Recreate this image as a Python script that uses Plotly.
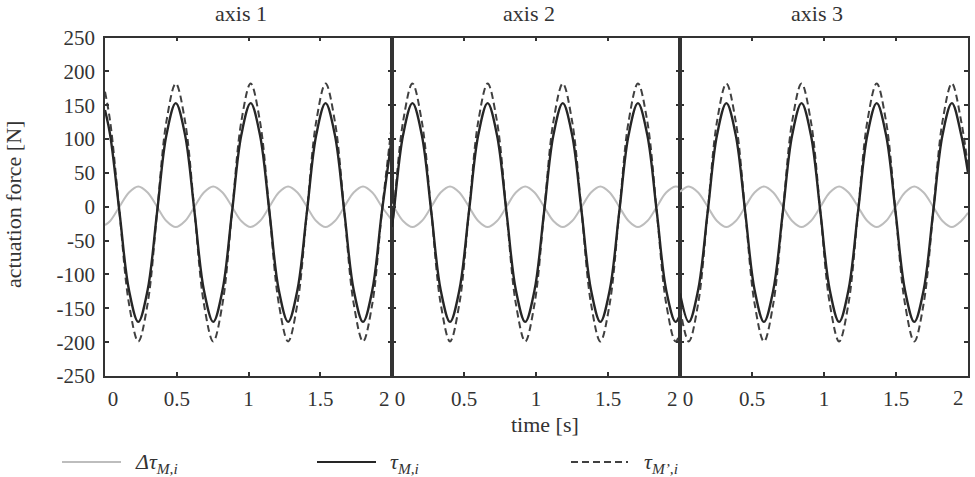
import plotly.graph_objects as go

# ---------------- data ----------------
panel_titles = ["axis 1", "axis 2", "axis 3"]

t_axis1 = [0, 0.036, 0.101, 0.167, 0.232, 0.297, 0.363, 0.428,
           0.493, 0.558, 0.624, 0.689, 0.754, 0.819, 0.885, 0.950,
           1.015, 1.080, 1.146, 1.211, 1.276, 1.341, 1.407, 1.472,
           1.537, 1.602, 1.668, 1.733, 1.798, 1.863, 1.929, 2.0]
tauM_axis1 = [143, 106, -8, -123, -170, -123, -8, 106,
              153, 106, -8, -123, -170, -123, -8, 106,
              153, 106, -8, -123, -170, -123, -8, 106,
              153, 106, -8, -123, -170, -123, -8, 104]
tauMp_axis1 = [170, 126, -8, -143, -199, -143, -8, 126,
               182, 126, -8, -143, -199, -143, -8, 126,
               182, 126, -8, -143, -199, -143, -8, 126,
               182, 126, -8, -143, -199, -143, -8, 124]
delta_axis1 = [-27, -21, 0, 21, 30, 21, 0, -21,
               -30, -21, 0, 21, 30, 21, 0, -21,
               -30, -21, 0, 21, 30, 21, 0, -21,
               -30, -21, 0, 21, 30, 21, 0, -20]

t_axis2 = [0, 0.012, 0.077,
           0.142, 0.207, 0.273, 0.338, 0.403, 0.468, 0.534, 0.599,
           0.664, 0.729, 0.795, 0.860, 0.925, 0.990, 1.056, 1.121,
           1.186, 1.251, 1.317, 1.382, 1.447, 1.512, 1.578, 1.643,
           1.708, 1.773, 1.839, 1.904, 1.969, 2.0]
tauM_axis2 = [-30, -8, 106,
              153, 106, -8, -123, -170, -123, -8, 106,
              153, 106, -8, -123, -170, -123, -8, 106,
              153, 106, -8, -123, -170, -123, -8, 106,
              153, 106, -8, -123, -170, -160]
tauMp_axis2 = [-34, -8, 126,
               182, 126, -8, -143, -199, -143, -8, 126,
               182, 126, -8, -143, -199, -143, -8, 126,
               182, 126, -8, -143, -199, -143, -8, 126,
               182, 126, -8, -143, -199, -187]
delta_axis2 = [4, 0, -21,
               -30, -21, 0, 21, 30, 21, 0, -21,
               -30, -21, 0, 21, 30, 21, 0, -21,
               -30, -21, 0, 21, 30, 21, 0, -21,
               -30, -21, 0, 21, 30, 28]

t_axis3 = [0,
           0.061, 0.126, 0.192, 0.257, 0.322, 0.387, 0.453, 0.518,
           0.583, 0.648, 0.714, 0.779, 0.844, 0.909, 0.975, 1.040,
           1.105, 1.170, 1.236, 1.301, 1.366, 1.431, 1.497, 1.562,
           1.627, 1.692, 1.758, 1.823, 1.888, 1.953, 2.0]
tauM_axis3 = [-128,
              -170, -123, -8, 106, 153, 106, -8, -123,
              -170, -123, -8, 106, 153, 106, -8, -123,
              -170, -123, -8, 106, 153, 106, -8, -123,
              -170, -123, -8, 106, 153, 106, 50]
tauMp_axis3 = [-150,
               -199, -143, -8, 126, 182, 126, -8, -143,
               -199, -143, -8, 126, 182, 126, -8, -143,
               -199, -143, -8, 126, 182, 126, -8, -143,
               -199, -143, -8, 126, 182, 126, 58]
delta_axis3 = [22,
               30, 21, 0, -21, -30, -21, 0, 21,
               30, 21, 0, -21, -30, -21, 0, 21,
               30, 21, 0, -21, -30, -21, 0, 21,
               30, 21, 0, -21, -30, -21, -9]

x_tickvals = [0, 0.5, 1, 1.5, 2]
x_ticktext = ["\u00a0\u00a0\u00a00", "0.5", "1", "1.5", "2\u00a0\u00a0\u00a0"]
x_ticktext_last = ["\u00a0\u00a0\u00a00", "0.5", "1", "1.5", ""]
x_last_label = "2"
y_tickvals = [250, 200, 150, 100, 50, 0, -50, -100, -150, -200, -250]
y_ticktext = ["250", "200", "150", "100", "50", "0", "-50", "-100", "-150", "-200", "-250"]

legend_labels = ["<i>Δτ</i><sub><i>M,i</i></sub>",
                 "<i>τ</i><sub><i>M,i</i></sub>",
                 "<i>τ</i><sub><i>M’,i</i></sub>"]

# ---------------- styling ----------------
W, H = 975, 477
FONT = "Liberation Serif"
TXT = "#333333"
AX = "#333333"
C_DELTA = "#bdbdbd"
C_TAU = "#262626"
C_TAUP = "#404040"

panels = [
    (t_axis1, delta_axis1, tauM_axis1, tauMp_axis1),
    (t_axis2, delta_axis2, tauM_axis2, tauMp_axis2),
    (t_axis3, delta_axis3, tauM_axis3, tauMp_axis3),
]

px_left = [105, 392, 680]
px_right = [392, 680, 968]
plot_top, plot_bottom = 37.5, 376

fig = go.Figure()
for i, (t, d, tm, tmp) in enumerate(panels):
    xa = "x" if i == 0 else f"x{i+1}"
    ya = "y" if i == 0 else f"y{i+1}"
    fig.add_trace(go.Scatter(x=t, y=d, mode="lines", xaxis=xa, yaxis=ya,
                             line=dict(color=C_DELTA, width=2, shape="spline", smoothing=1.0),
                             showlegend=False, hoverinfo="skip"))
    fig.add_trace(go.Scatter(x=t, y=tmp, mode="lines", xaxis=xa, yaxis=ya,
                             line=dict(color=C_TAUP, width=2, dash="7px,4px",
                                       shape="spline", smoothing=1.0),
                             showlegend=False, hoverinfo="skip"))
    fig.add_trace(go.Scatter(x=t, y=tm, mode="lines", xaxis=xa, yaxis=ya,
                             line=dict(color=C_TAU, width=2.4, shape="spline", smoothing=1.0),
                             showlegend=False, hoverinfo="skip"))

layout = dict(
    template="none",
    width=W, height=H, autosize=False,
    margin=dict(l=0, r=0, t=0, b=0, pad=0),
    paper_bgcolor="white", plot_bgcolor="white",
    font=dict(family=FONT, size=21, color=TXT),
    showlegend=False,
)

ydom = [1 - plot_bottom / H, 1 - plot_top / H]
for i in range(3):
    xk = "xaxis" if i == 0 else f"xaxis{i+1}"
    yk = "yaxis" if i == 0 else f"yaxis{i+1}"
    ya = "y" if i == 0 else f"y{i+1}"
    xa = "x" if i == 0 else f"x{i+1}"
    layout[xk] = dict(
        domain=[px_left[i] / W, px_right[i] / W], anchor=ya, automargin=False,
        range=[0, 2], tickvals=x_tickvals,
        ticktext=(x_ticktext_last if i == 2 else x_ticktext),
        showline=True, linecolor=AX, linewidth=1.5, mirror="ticks",
        ticks="inside", ticklen=4, tickwidth=1.5, tickcolor=AX,
        showgrid=False, zeroline=False, ticklabelstandoff=3,
        ticklabeloverflow="allow",
        tickfont=dict(family=FONT, size=21, color=TXT),
    )
    layout[yk] = dict(
        domain=ydom, anchor=xa, automargin=False,
        range=[-250, 250], tickvals=y_tickvals, ticktext=y_ticktext,
        showline=True, linecolor=AX, linewidth=1.5, mirror="ticks",
        ticks="inside", ticklen=4, tickwidth=1.5, tickcolor=AX,
        showgrid=False, zeroline=False, showticklabels=(i == 0),
        ticklabelstandoff=4,
        tickfont=dict(family=FONT, size=21, color=TXT),
    )
    if i > 0:
        layout[yk]["matches"] = "y"

fig.update_layout(**layout)

# last tick label of axis 3 (kept inside the page)
fig.add_annotation(text=x_last_label, x=958 / W, y=1 - 398 / H, xref="paper", yref="paper",
                   showarrow=False, xanchor="center", yanchor="middle",
                   font=dict(family=FONT, size=21, color=TXT))

# panel titles
title_cx = [241, 529, 817]
for i, name in enumerate(panel_titles):
    fig.add_annotation(text=name, x=title_cx[i] / W, y=1 - 14 / H, xref="paper", yref="paper",
                       showarrow=False, xanchor="center", yanchor="middle",
                       font=dict(family=FONT, size=22, color=TXT))

# axis titles
fig.add_annotation(text="time [s]", x=545 / W, y=1 - 424 / H, xref="paper", yref="paper",
                   showarrow=False, xanchor="center", yanchor="middle",
                   font=dict(family=FONT, size=22, color=TXT))
fig.add_annotation(text="actuation force [N]", x=13 / W, y=1 - 205 / H, xref="paper", yref="paper",
                   showarrow=False, xanchor="center", yanchor="middle", textangle=-90,
                   font=dict(family=FONT, size=22, color=TXT))

# legend (drawn manually)
leg_y = 1 - 462 / H
leg_line = [(62, 121, C_DELTA, "solid"), (317, 376, C_TAU, "solid"), (571, 628, C_TAUP, "7px,4px")]
leg_text_x = [133, 388, 642]
for (x0, x1, col, dash), tx, lab in zip(leg_line, leg_text_x, legend_labels):
    fig.add_shape(type="line", xref="paper", yref="paper", x0=x0 / W, x1=x1 / W, y0=leg_y, y1=leg_y,
                  line=dict(color=col, width=2, dash=dash))
    fig.add_annotation(text=lab, x=tx / W, y=1 - 463 / H, xref="paper", yref="paper",
                       showarrow=False, xanchor="left", yanchor="middle",
                       font=dict(family=FONT, size=22, color=TXT))

fig.write_html("out.html",
               post_script="document.body.style.margin='0';document.body.style.padding='0';")
